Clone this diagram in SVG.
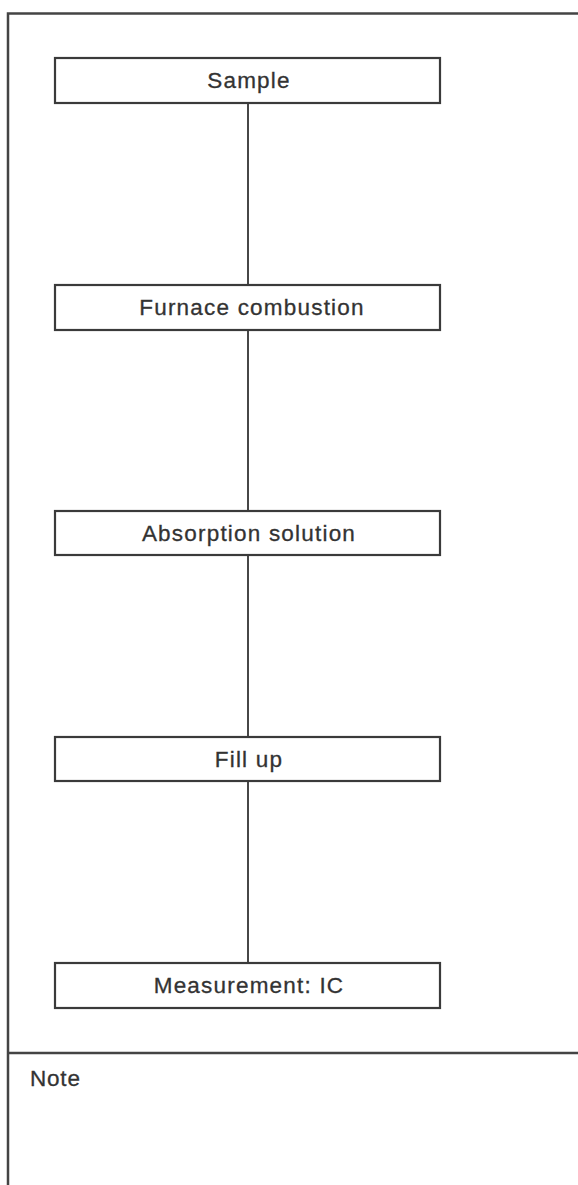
<svg xmlns="http://www.w3.org/2000/svg" width="578" height="1185" viewBox="0 0 578 1185">
<style>
.frame{fill:none;stroke:#444;stroke-width:2.5}
.box{fill:#fff;stroke:#3a3a3a;stroke-width:2.2}
.edge{stroke:#333;stroke-width:1.8;fill:none}
.lbl{font-family:"Liberation Sans",Arial,sans-serif;font-size:22.5px;fill:#333;stroke:#333;stroke-width:0.3;letter-spacing:1.2px;text-anchor:middle}
.note{font-family:"Liberation Sans",Arial,sans-serif;font-size:22.5px;fill:#333;stroke:#333;stroke-width:0.3;letter-spacing:0.8px}
</style>
<rect width="578" height="1185" fill="#fff"/>
<g id="frame">
<path class="frame" d="M8,1190 V13.5 H580"/>
<line class="frame" x1="8" y1="1053" x2="580" y2="1053"/>
</g>
<g id="connectors">
<line class="edge" x1="248" y1="103" x2="248" y2="285"/>
<line class="edge" x1="248" y1="330" x2="248" y2="511"/>
<line class="edge" x1="248" y1="555" x2="248" y2="737"/>
<line class="edge" x1="248" y1="781" x2="248" y2="963"/>
</g>
<g id="sample"><rect class="box" x="55" y="58" width="385" height="45"/><text class="lbl" x="249" y="88">Sample</text></g>
<g id="furnace"><rect class="box" x="55" y="285" width="385" height="45"/><text class="lbl" x="252" y="315">Furnace combustion</text></g>
<g id="absorption"><rect class="box" x="55" y="511" width="385" height="44"/><text class="lbl" x="249" y="541">Absorption solution</text></g>
<g id="fillup"><rect class="box" x="55" y="737" width="385" height="44"/><text class="lbl" x="249" y="767">Fill up</text></g>
<g id="measurement"><rect class="box" x="55" y="963" width="385" height="45"/><text class="lbl" x="249" y="993">Measurement: IC</text></g>
<g id="note"><text class="note" x="30" y="1086">Note</text></g>
</svg>
